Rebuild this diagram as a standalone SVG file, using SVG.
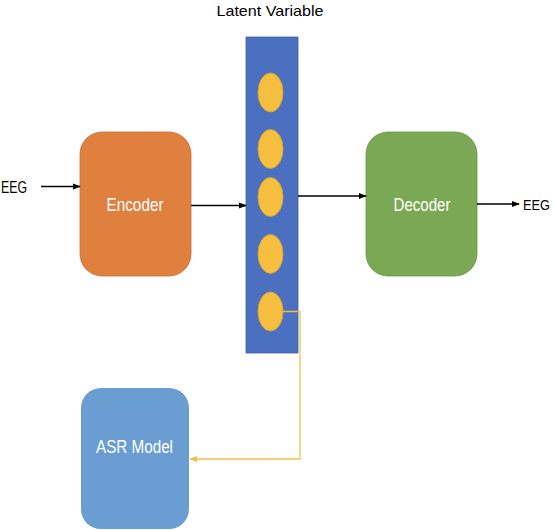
<svg xmlns="http://www.w3.org/2000/svg" width="554" height="530" viewBox="0 0 554 530">
<defs>
<style>
.lbl{font-family:"Liberation Sans",Arial,sans-serif;font-size:17px;fill:#000}
.wt{font-family:"Liberation Sans",Arial,sans-serif;font-size:17.5px;fill:#fff;text-anchor:middle}
.blk{stroke:#000;stroke-width:1.3;fill:none}
.dot{fill:#F6BF3F;stroke:#D9A537;stroke-width:1}
</style>
<marker id="ah" viewBox="0 0 10 10" refX="9" refY="5" markerWidth="6" markerHeight="6" orient="auto"><path d="M0,1 L10,5 L0,9 Z" fill="#000"/></marker>
<marker id="ahy" viewBox="0 0 10 10" refX="9" refY="5" markerWidth="6" markerHeight="6" orient="auto"><path d="M0,1 L10,5 L0,9 Z" fill="#F3C044"/></marker>
</defs>
<rect width="554" height="530" fill="#fff"/>
<text class="lbl" x="270" y="15.5" text-anchor="middle" style="font-size:15px" textLength="107" lengthAdjust="spacingAndGlyphs">Latent Variable</text>
<g id="latent">
<rect x="246" y="37" width="52" height="316" fill="#4A70BF" stroke="#3F63A8" stroke-width="0.8"/>
<ellipse class="dot" cx="270.5" cy="92.5" rx="12.5" ry="19.5"/>
<ellipse class="dot" cx="270.5" cy="149" rx="12.5" ry="19.5"/>
<ellipse class="dot" cx="270.5" cy="197" rx="12.5" ry="19.5"/>
<ellipse class="dot" cx="270.5" cy="254" rx="12.5" ry="19.5"/>
<ellipse class="dot" cx="270.5" cy="311.5" rx="12.5" ry="19.5"/>
</g>
<g id="encoder">
<rect x="80" y="132" width="111" height="144" rx="22" fill="#E0803F" stroke="#C96F33" stroke-width="0.8"/>
<text class="wt" x="135" y="211" textLength="57" lengthAdjust="spacingAndGlyphs">Encoder</text>
</g>
<g id="decoder">
<rect x="366" y="132" width="111" height="144" rx="22" fill="#7BA854" stroke="#6A9447" stroke-width="0.8"/>
<text class="wt" x="422" y="211" textLength="57" lengthAdjust="spacingAndGlyphs">Decoder</text>
</g>
<g id="asr">
<rect x="81" y="388" width="108" height="141" rx="20" fill="#6A9DD2"/>
<text class="wt" x="134.5" y="453" textLength="77" lengthAdjust="spacingAndGlyphs">ASR Model</text>
</g>
<g id="in-label"><text class="lbl" x="1" y="193" textLength="26" lengthAdjust="spacingAndGlyphs">EEG</text></g>
<g id="out-label"><text class="lbl" x="523" y="210" style="font-size:14px" textLength="27" lengthAdjust="spacingAndGlyphs">EEG</text></g>
<g id="connectors">
<line class="blk" x1="41" y1="186.5" x2="80" y2="186.5" marker-end="url(#ah)"/>
<line class="blk" x1="191" y1="205.5" x2="246" y2="205.5" marker-end="url(#ah)"/>
<line class="blk" x1="298" y1="196" x2="366" y2="196" marker-end="url(#ah)"/>
<line class="blk" x1="477" y1="204" x2="519" y2="204" marker-end="url(#ah)"/>
<polyline points="283,311.5 300,311.5 300,459 190,459" fill="none" stroke="#F3C044" stroke-width="1.3" marker-end="url(#ahy)"/>
</g>
</svg>
